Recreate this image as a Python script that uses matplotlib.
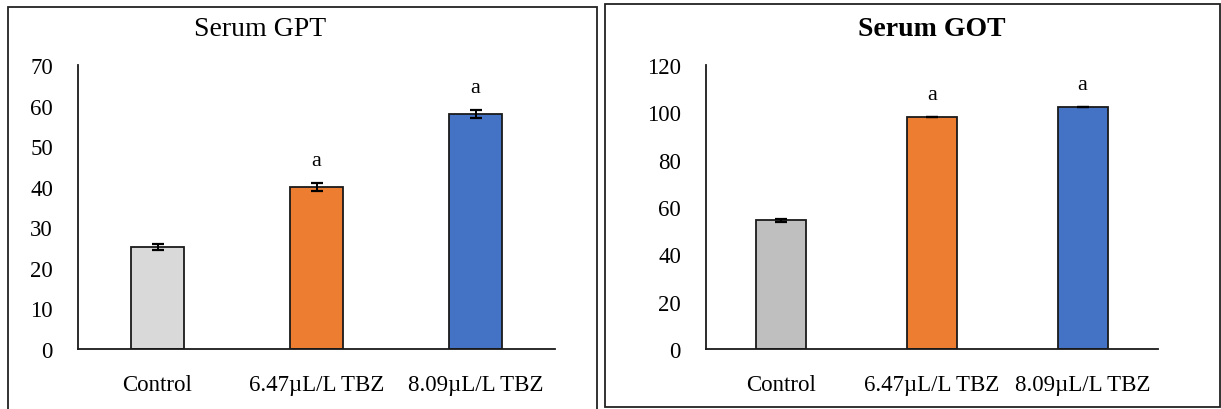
import matplotlib.pyplot as plt
from matplotlib.patches import Rectangle

plt.rcParams['font.family'] = ['Liberation Serif', 'DejaVu Serif']

groups = ['Control', '6.47µL/L TBZ', '8.09µL/L TBZ']

gpt_mean = [25.2, 40.0, 58.0]
gpt_err = [0.8, 1.0, 1.0]
gpt_marks = ['', 'a', 'a']
gpt_colors = ['#D9D9D9', '#ED7D31', '#4472C4']

got_mean = [54.3, 98.0, 102.2]
got_err = [0.5, 0.0, 0.0]
got_marks = ['', 'a', 'a']
got_colors = ['#BFBFBF', '#ED7D31', '#4472C4']

W, H = 1221, 410
fig = plt.figure(figsize=(W / 100, H / 100), dpi=100)

# panel frames (pixel coords -> figure fraction)
def frame(x0, y0, x1, y1):
    fig.patches.append(Rectangle((x0 / W, 1 - y1 / H), (x1 - x0) / W, (y1 - y0) / H,
                                 transform=fig.transFigure, fill=False,
                                 edgecolor='#222222', linewidth=1.3))

frame(8, 8, 597, 412)
frame(605, 5, 1220, 408)


def panel(left_px, right_px, means, errs, marks, colors, ymax, ystep, title, title_x, bold):
    ax = fig.add_axes([left_px / W, 1 - 350 / H, (right_px - left_px) / W, 284 / H])
    x = range(len(groups))
    ax.bar(x, means, width=0.33, color=colors, edgecolor='#1a1a1a', linewidth=1.3,
           yerr=errs, capsize=4.5, error_kw=dict(elinewidth=1.4, capthick=1.6, ecolor='black'))
    for i, m in enumerate(marks):
        if m:
            ax.annotate(m, (i, means[i] + errs[i]), xytext=(0, 16), textcoords='offset points',
                        ha='center', va='center', fontsize=16)
    ax.set_xlim(-0.5, len(groups) - 0.5)
    ax.set_ylim(0, ymax)
    ax.set_yticks(range(0, ymax + 1, ystep))
    ax.set_xticks(list(x))
    ax.set_xticklabels(groups)
    ax.tick_params(axis='both', length=0, labelsize=16.5)
    ax.tick_params(axis='y', pad=18)
    ax.tick_params(axis='x', pad=18)
    for s in ['top', 'right']:
        ax.spines[s].set_visible(False)
    for s in ['left', 'bottom']:
        ax.spines[s].set_linewidth(1.3)
        ax.spines[s].set_color('#1a1a1a')
    fig.text(title_x / W, 1 - 29 / H, title, ha='center', va='center', fontsize=20,
             fontweight='bold' if bold else 'normal')
    return ax


panel(78, 555, gpt_mean, gpt_err, gpt_marks, gpt_colors, 70, 10, 'Serum GPT', 260, False)
panel(706, 1158, got_mean, got_err, got_marks, got_colors, 120, 20, 'Serum GOT', 932, True)

fig.savefig('out.png', dpi=100)
